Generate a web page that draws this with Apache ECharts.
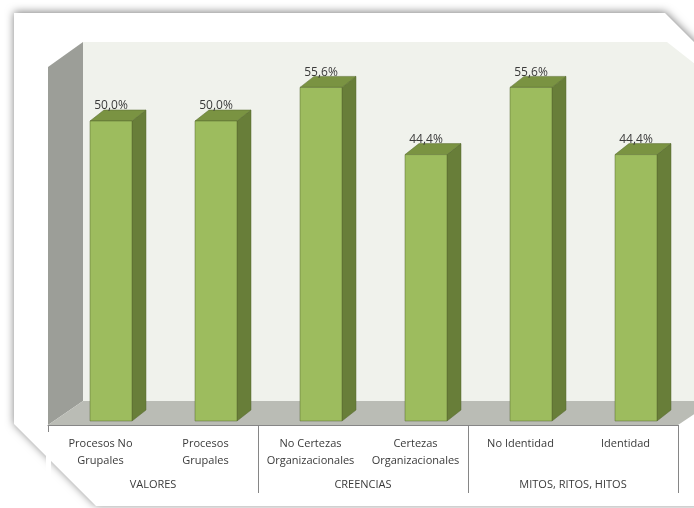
<!DOCTYPE html>
<html>
<head>
<meta charset="utf-8">
<script src="https://cdn.jsdelivr.net/npm/echarts@6/dist/echarts.min.js"></script>
<style>html,body{margin:0;padding:0;background:#fff;}#c{width:694px;height:508px;}</style>
</head>
<body>
<div id="c"></div>
<script>
var categories = ['Procesos No\nGrupales', 'Procesos\nGrupales', 'No Certezas\nOrganizacionales', 'Certezas\nOrganizacionales', 'No Identidad', 'Identidad'];
var groups = ['VALORES', 'CREENCIAS', 'MITOS, RITOS, HITOS'];
var values = [50.0, 50.0, 55.6, 44.4, 55.6, 44.4];
var labels = ['50,0%', '50,0%', '55,6%', '44,4%', '55,6%', '44,4%'];

var chart = echarts.init(document.getElementById('c'), null, {renderer: 'canvas'});
var FONT = '"Open Sans", "Noto Sans", sans-serif';

function renderBar(params, api) {
  var i = api.value(0), v = api.value(1);
  var top = api.coord([i, v]);
  var base = api.coord([i, 0]);
  var bw = api.size([1, 0])[0];
  var lift = 4, dx = 14, dy = 11;
  var x0 = top[0] - bw * 0.1, x1 = top[0] + bw * 0.3;
  var yT = top[1] - lift, yB = base[1] - lift;
  var stroke = 'rgba(85,105,45,0.7)';
  return {
    type: 'group',
    children: [
      {type: 'polygon', shape: {points: [[x1, yT], [x1 + dx, yT - dy], [x1 + dx, yB - dy], [x1, yB]]},
        style: {fill: '#687e39', stroke: stroke, lineWidth: 0.7}},
      {type: 'polygon', shape: {points: [[x0, yT], [x0 + dx, yT - dy], [x1 + dx, yT - dy], [x1, yT]]},
        style: {fill: '#7a9342', stroke: stroke, lineWidth: 0.7}},
      {type: 'rect', shape: {x: x0, y: yT, width: x1 - x0, height: yB - yT},
        style: {fill: '#9dbc5e', stroke: stroke, lineWidth: 0.7}},
      {type: 'text', style: {text: labels[params.dataIndex], x: (x0 + x1) / 2, y: yT - dy + 2,
        textAlign: 'center', textVerticalAlign: 'bottom', fill: '#3a3a3a', font: '12px ' + FONT}}
    ]
  };
}

chart.setOption({
  animation: false,
  graphic: [
    {type: 'polygon', z: -10, shape: {points: [[14, 13], [665, 13], [712, 60], [712, 506], [96, 506], [14, 424]]},
      style: {fill: '#ffffff', shadowBlur: 9, shadowColor: 'rgba(0,0,0,0.5)', shadowOffsetY: -1}},
    {type: 'polygon', z: -9, shape: {points: [[83, 42], [667, 42], [700, 68], [700, 401], [83, 401]]},
      style: {fill: '#f0f2ec'}},
    {type: 'polygon', z: -9, shape: {points: [[48, 67], [83, 42], [83, 401], [48, 425]]},
      style: {fill: '#9c9e98'}},
    {type: 'polygon', z: -9, shape: {points: [[48, 425], [83, 401], [714, 401], [678, 425]]},
      style: {fill: '#babcb5'}},
    {type: 'rect', z: 50, shape: {x: 46, y: 432, width: 5, height: 64}, style: {fill: '#ffffff'}},
    {type: 'line', z: 51, shape: {x1: 48.5, y1: 425, x2: 48.5, y2: 432}, style: {stroke: '#868686', lineWidth: 1}}
  ],
  grid: {left: 48, right: 16, top: 65, bottom: 83},
  xAxis: [
    {type: 'category', data: categories, position: 'bottom', z: 10,
      axisLine: {show: true, lineStyle: {color: '#868686', width: 1}},
      axisTick: {show: false},
      axisLabel: {margin: 10, color: '#3a3a3a', fontFamily: FONT, fontSize: 11, lineHeight: 17, interval: 0}},
    {type: 'category', data: groups, position: 'bottom', z: 10,
      axisLine: {show: false},
      axisTick: {show: true, length: 68, lineStyle: {color: '#868686', width: 1}},
      axisLabel: {margin: 54, color: '#3a3a3a', fontFamily: FONT, fontSize: 11, interval: 0}}
  ],
  yAxis: {type: 'value', min: 0, max: 60, show: false, splitLine: {show: false}},
  series: [{
    type: 'custom',
    xAxisIndex: 0,
    renderItem: renderBar,
    clip: false,
    z: 5,
    data: categories.map(function (c, i) { return [i, values[i]]; }),
    encode: {x: 0, y: 1}
  }]
});
</script>
</body>
</html>
